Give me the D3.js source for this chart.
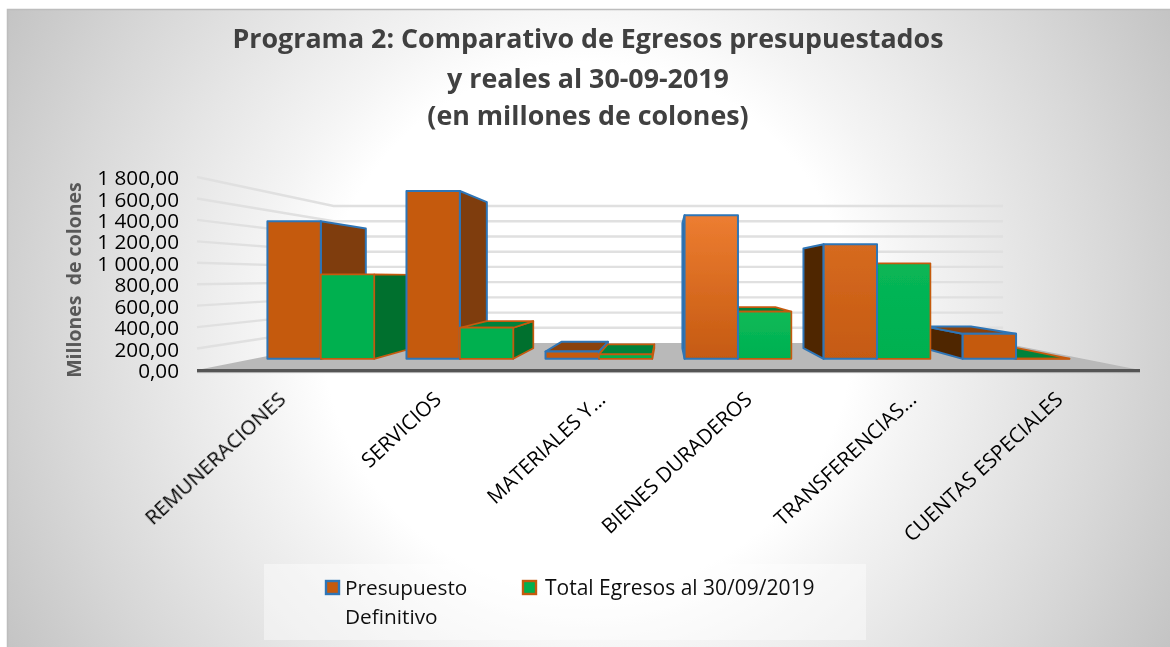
<!DOCTYPE html>
<html lang="es">
<head>
<meta charset="utf-8">
<script src="https://cdn.jsdelivr.net/npm/d3@7/dist/d3.min.js"></script>
<style>
html,body{margin:0;padding:0;background:#fff;}
svg{display:block;}
text{font-family:"Open Sans",sans-serif;white-space:pre;}
</style>
</head>
<body>
<div id="chart"></div>
<script>
const categories = ["REMUNERACIONES","SERVICIOS","MATERIALES Y...","BIENES DURADEROS","TRANSFERENCIAS...","CUENTAS ESPECIALES"];
const seriesNames = ["Presupuesto Definitivo","Total Egresos al 30/09/2019"];
const presupuesto = [1459,1779,78,1523,1214,266];
const totalEgresos = [895,330,48,500,1012,2];
const yTicks = [0,200,400,600,800,1000,1200,1400,1600,1800];
const yTickLabels = ["0,00","200,00","400,00","600,00","800,00","1 000,00","1 200,00","1 400,00","1 600,00","1 800,00"];
const titleLines = ["Programa 2: Comparativo de Egresos presupuestados","y reales al 30-09-2019","(en millones de colones)"];
const yTitle = "Millones  de colones";
const legendLines = [["Presupuesto","Definitivo"],["Total Egresos al 30/09/2019"]];

// styles, by series then by category
const frontTop = [
  ["#c55a11","#c55a11","#c55a11","#ed7d31","#d66a20","#c55a11"],
  ["#00b050","#00b050","#00b050","#0cba58","#08b656","#00b050"]];
const frontBottom = ["#c55a11","#00b050"];
const sideLeft = ["#4f2606","#004d23"];
const sideRight = ["#7f3c0a","#00702f"];
const topFace = ["#8a420c","#00823a"];
const edge = ["#2e75b6","#c55a11"];
const edgeWidth = [2,1.7];
const seriesValues = [presupuesto,totalEgresos];

const W = 1170, H = 647;
const svg = d3.select("#chart").append("svg").attr("width",W).attr("height",H);
const defs = svg.append("defs");
const bg = defs.append("radialGradient").attr("id","bg").attr("gradientUnits","userSpaceOnUse")
  .attr("cx",588).attr("cy",328).attr("r",663);
[[0,"#fff"],[.40,"#fff"],[.5,"#f4f4f4"],[.65,"#e6e6e6"],[.8,"#d8d8d8"],[1,"#c4c4c4"]].forEach(s=>bg.append("stop").attr("offset",s[0]).attr("stop-color",s[1]));
defs.append("filter").attr("id","soft").attr("x","-5%").attr("y","-5%").attr("width","110%").attr("height","110%")
  .append("feGaussianBlur").attr("stdDeviation",0.45);

svg.append("rect").attr("x",7).attr("y",9).attr("width",W-7).attr("height",H-9).attr("fill","url(#bg)");
svg.append("path").attr("d",`M7.5,${H}V9.5H${W}`).attr("fill","none").attr("stroke","#bdbdbd").attr("stroke-width",1.5);

const root = svg.append("g").attr("filter","url(#soft)");

// perspective: depth factor s = 1 on the front plane of the floor
const vp = {x:668, y:277};
const depth = {front:1, back:0.71, barFront:0.88, barBack:0.766};
const x = d3.scaleBand().domain(categories).range([197,1140]).paddingInner(0.232).paddingOuter(0.1);
const xs = d3.scaleBand().domain(d3.range(seriesNames.length)).range([0,x.bandwidth()]);
const y = d3.scaleLinear().domain([0,1800]).range([370,177]);
const project = (X,v,s)=>[vp.x+(X-vp.x)*s, vp.y+(y(v)-vp.y)*s];
const line = d3.line();
const poly = pts=>line(pts)+"Z";

// floor
root.append("path").attr("fill","#b9b9b9").attr("d",poly([
  project(197,0,depth.front),project(1140,0,depth.front),project(1140,0,depth.back),project(197,0,depth.back)]));

// gridlines: side wall and back wall
const grid = root.append("g").attr("fill","none").attr("stroke","#e0e0e0").attr("stroke-width",2.4);
yTicks.filter(t=>t>0).forEach(t=>{
  grid.append("path").attr("d",line([project(197,t,depth.front),project(197,t,depth.back),project(1140,t,depth.back)]));
});

// bars, painted from the outside towards the vanishing point
const bars = [];
categories.forEach((c,i)=>seriesValues.forEach((vals,k)=>{
  const x0 = x(c)+xs(k), x1 = x0+xs.bandwidth();
  bars.push({c,i,k,v:vals[i],x0,x1,dist:Math.abs((x0+x1)/2-vp.x)});
}));
bars.sort((a,b)=>b.dist-a.dist);

bars.forEach(b=>{
  const id = `f${b.i}${b.k}`;
  const g = defs.append("linearGradient").attr("id",id).attr("x1",0).attr("x2",0).attr("y1",0).attr("y2",1);
  g.append("stop").attr("offset",0).attr("stop-color",frontTop[b.k][b.i]);
  g.append("stop").attr("offset",1).attr("stop-color",frontBottom[b.k]);
  const gb = root.append("g").attr("stroke",edge[b.k]).attr("stroke-width",edgeWidth[b.k]).attr("stroke-linejoin","round");
  const F = (X,v)=>project(X,v,depth.barFront), B = (X,v)=>project(X,v,depth.barBack);
  // side face
  if (b.x1 < vp.x) {
    gb.append("path").attr("fill",sideRight[b.k]).attr("d",poly([F(b.x1,0),F(b.x1,b.v),B(b.x1,b.v),B(b.x1,0)]));
  } else if (b.x0 > vp.x) {
    gb.append("path").attr("fill",sideLeft[b.k]).attr("d",poly([F(b.x0,0),F(b.x0,b.v),B(b.x0,b.v),B(b.x0,0)]));
  }
  // top face, seen only below eye level
  if (F(b.x0,b.v)[1] > vp.y) {
    gb.append("path").attr("fill",topFace[b.k]).attr("d",poly([F(b.x0,b.v),F(b.x1,b.v),B(b.x1,b.v),B(b.x0,b.v)]));
  }
  // front face
  gb.append("path").attr("fill",`url(#${id})`).attr("d",poly([F(b.x0,0),F(b.x1,0),F(b.x1,b.v),F(b.x0,b.v)]));
});

// front edge of the floor
root.append("line").attr("x1",197).attr("x2",1140).attr("y1",y(0)+0.5).attr("y2",y(0)+0.5).attr("stroke","#555").attr("stroke-width",3.2);
root.append("line").attr("x1",197).attr("x2",1140).attr("y1",y(0)+2.6).attr("y2",y(0)+2.6).attr("stroke","#a8a8a8").attr("stroke-width",1);

// y axis
const yAxis = d3.axisLeft(y).tickValues(yTicks).tickSize(0).tickPadding(0)
  .tickFormat((d,i)=>yTickLabels[i]);
const yG = root.append("g").attr("transform","translate(179,1)").call(yAxis);
yG.select(".domain").remove();
yG.selectAll("text").style("font-size","20.7px").style("font-family",'"Open Sans",sans-serif').attr("fill","#000");

root.append("text").attr("transform","translate(81,280) rotate(-90)").attr("text-anchor","middle")
  .attr("fill","#595959").style("font-size","19.5px").style("font-weight",700).text(yTitle);

// category labels
const labelX = d3.scalePoint().domain(categories).range([287,1064]);
root.append("g").selectAll("text").data(categories).join("text")
  .attr("transform",d=>`translate(${labelX(d)+(d.endsWith("...")?9:0)},401) rotate(-43)`)
  .attr("text-anchor","end").attr("fill","#000").style("font-size","20.6px").text(d=>d);

// title
root.append("g").selectAll("text").data(titleLines).join("text")
  .attr("x",588).attr("y",(d,i)=>[48,88,125][i]).attr("text-anchor","middle")
  .attr("fill","#404040").style("font-size","26.8px").style("font-weight",700).text(d=>d);

// legend
root.append("rect").attr("x",264).attr("y",564).attr("width",602).attr("height",76).attr("fill","#fff").attr("fill-opacity",0.42);
const legendX = d3.scaleOrdinal().domain([0,1]).range([326,523]);
legendLines.forEach((lines,k)=>{
  const lg = root.append("g").attr("transform",`translate(${legendX(k)},0)`);
  lg.append("rect").attr("x",0).attr("y",581).attr("width",13).attr("height",13)
    .attr("fill",frontBottom[k]).attr("stroke",edge[k]).attr("stroke-width",2.4);
  lines.forEach((t,j)=>lg.append("text").attr("x",19+(k?3:0)).attr("y",595+j*29).attr("fill","#111").style("font-size",k?"21px":"20.8px").text(t));
});
</script>
</body>
</html>
